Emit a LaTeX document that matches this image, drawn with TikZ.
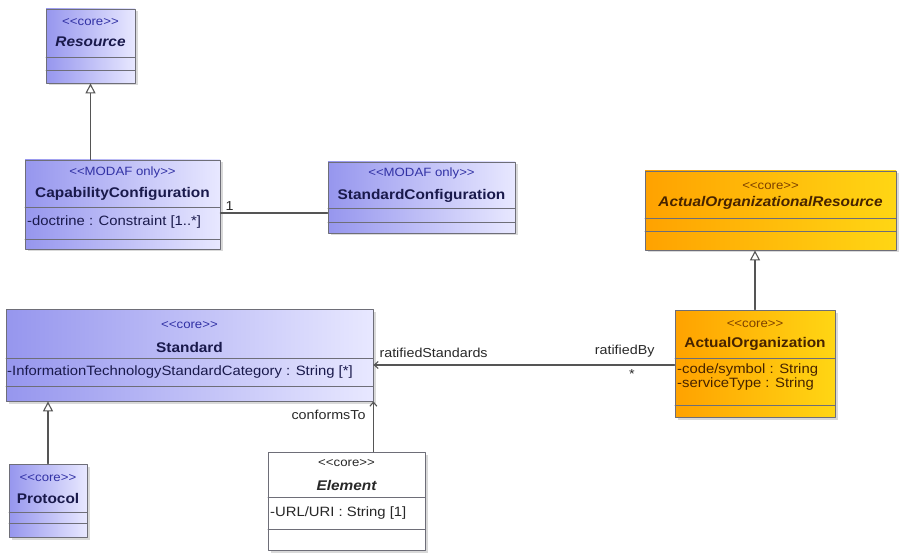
\documentclass[tikz,border=0pt]{standalone}
\usepackage{fontspec}
\setmainfont[FakeStretch=1.1]{Liberation Sans}
\usetikzlibrary{arrows.meta,shadows}
\definecolor{umlblueL}{RGB}{150,150,238}
\definecolor{umlblueR}{RGB}{232,232,255}
\definecolor{umlorgL}{RGB}{255,162,0}
\definecolor{umlorgR}{RGB}{255,214,20}
\definecolor{umledge}{RGB}{110,110,120}
\definecolor{umlline}{RGB}{85,85,85}
\definecolor{umlnavy}{RGB}{25,25,75}
\definecolor{umlsteb}{RGB}{50,50,165}
\definecolor{umlbrown}{RGB}{70,35,0}
\definecolor{umlsteo}{RGB}{125,65,0}
\definecolor{umltext}{RGB}{40,40,40}

\newcommand\ster[1]{<\kern0pt<#1>\kern0pt>}

\begin{document}
\begin{tikzpicture}[
    x=1pt, y=-1pt,
    line cap=round, line join=round,
    cls/.style={draw=umledge, line width=0.8pt, inner sep=0pt,
                drop shadow={shadow xshift=2.5pt, shadow yshift=-2.5pt, opacity=0.3}},
    blubox/.style={cls, left color=umlblueL, right color=umlblueR},
    orgbox/.style={cls, left color=umlorgL, right color=umlorgR},
    whtbox/.style={cls, fill=white},
    sep/.style={umledge, line width=0.6pt},
    stb/.style={umlsteb, font=\fontsize{12}{14}\selectfont},
    sto/.style={umlsteo, font=\fontsize{12}{14}\selectfont},
    stw/.style={umltext, font=\fontsize{12}{14}\selectfont},
    cname/.style={font=\fontsize{14}{16}\selectfont\bfseries},
    aname/.style={font=\fontsize{14}{16}\selectfont\bfseries\itshape},
    attr/.style={anchor=west, align=left, inner sep=0pt,
                 font=\fontsize{13.5}{12}\selectfont},
    lbl/.style={umltext, font=\fontsize{13}{15}\selectfont},
    gen/.style={umlline, line width=1.1pt,
                -{Triangle[open, fill=white, length=10pt, width=10pt]}},
    assoc/.style={umlline, line width=1.1pt},
    nav/.style={assoc, -{Straight Barb[length=4pt, width=7pt]}},
  ]
  \useasboundingbox (0,0) rectangle (902,553);

  % ---- classes ----------------------------------------------
  \node[blubox, minimum width=89pt,  minimum height=74pt]  (res)    at ( 90.5, 46.0) {};
  \node[blubox, minimum width=195pt, minimum height=89pt]  (cap)    at (122.5,204.5) {};
  \node[blubox, minimum width=187pt, minimum height=71pt]  (stdcfg) at (421.5,197.5) {};
  \node[orgbox, minimum width=251pt, minimum height=79pt]  (aor)    at (770.5,210.5) {};
  \node[orgbox, minimum width=160pt, minimum height=107pt] (actorg) at (755.0,363.5) {};
  \node[blubox, minimum width=367pt, minimum height=92pt]  (std)    at (189.5,355.0) {};
  \node[blubox, minimum width=78pt,  minimum height=73pt]  (proto)  at ( 48.0,500.5) {};
  \node[whtbox, minimum width=157pt, minimum height=98pt]  (elem)   at (346.5,501.0) {};

  % ---- compartments -----------------------------------------
  \draw[sep] ( 46, 57) -- (135, 57);  \draw[sep] ( 46, 70) -- (135, 70);
  \draw[sep] ( 25,207) -- (220,207);  \draw[sep] ( 25,239) -- (220,239);
  \draw[sep] (328,208) -- (515,208);  \draw[sep] (328,222) -- (515,222);
  \draw[sep] (645,218) -- (896,218);  \draw[sep] (645,231) -- (896,231);
  \draw[sep] (675,358) -- (835,358);  \draw[sep] (675,405) -- (835,405);
  \draw[sep] (  6,358) -- (373,358);  \draw[sep] (  6,386) -- (373,386);
  \draw[sep] (  9,512) -- ( 87,512);  \draw[sep] (  9,523) -- ( 87,523);
  \draw[sep] (268,497) -- (425,497);  \draw[sep] (268,529) -- (425,529);

  % ---- class texts ------------------------------------------
  \node[stb] (resS) at ( 90.5, 22) {\ster{core}};
  \node[aname, umlnavy] (resN) at ( 90.5, 42) {Resource};

  \node[stb] (capS) at (122.5,172) {\ster{MODAF only}};
  \node[cname, umlnavy] (capN) at (122.5,194) {CapabilityConfiguration};
  \node[attr, umlnavy] (capA) at ( 27,222) {-doctrine : Constraint [1..*]};

  \node[stb] (cfgS) at (421.5,173) {\ster{MODAF only}};
  \node[cname, umlnavy] (cfgN) at (421.5,196) {StandardConfiguration};

  \node[sto] (aorS) at (770.5,186) {\ster{core}};
  \node[aname, umlbrown] (aorN) at (770.5,203) {ActualOrganizationalResource};

  \node[sto] (actS) at (755,324) {\ster{core}};
  \node[cname, umlbrown] (actN) at (755,344) {ActualOrganization};
  \node[attr, umlbrown] (actA) at (677,377) {-code/symbol : String\\-serviceType : String};

  \node[stb] (stdS) at (189.5,325) {\ster{core}};
  \node[cname, umlnavy] (stdN) at (189.5,347) {Standard};
  \node[attr, umlnavy] (stdA) at (  7,372)
       {-InformationTechnologyStandardCategory : String [*]};

  \node[stb] (proS) at ( 48,478) {\ster{core}};
  \node[cname, umlnavy] (proN) at ( 48,498) {Protocol};

  \node[stw] (eleS) at (346.5,463) {\ster{core}};
  \node[aname, umltext] (eleN) at (346.5,485) {Element};
  \node[attr, umltext] (eleA) at (270,513) {-URL/URI : String [1]};

  % ---- generalisations --------------------------------------
  \draw[gen] (res.south |- cap.north) -- (res.south);
  \draw[gen] (actorg.north) -- (actorg.north |- aor.south);
  \draw[gen] (proto.north) -- (proto.north |- std.south);

  % ---- associations -----------------------------------------
  \draw[assoc] ([yshift=-15.5pt]stdcfg.west) -- ([yshift=-15.5pt]stdcfg.west -| cap.east);
  \draw[nav] ([yshift=-1.5pt]actorg.west) -- ([yshift=-1.5pt]actorg.west -| std.east);
  \draw[nav] (std.south east |- elem.north) -- (std.south east);

  % ---- association labels -----------------------------------
  \node[lbl, anchor=south west] (l1)  at (222,214) {1};
  \node[lbl, anchor=south west] (lrs) at (376,361) {ratifiedStandards};
  \node[lbl, anchor=south east] (lrb) at (658,361) {ratifiedBy};
  \node[lbl] (lst) at (632,374) {*};
  \node[lbl, anchor=east] (lct) at (369,415) {conformsTo};

\end{tikzpicture}
\end{document}
